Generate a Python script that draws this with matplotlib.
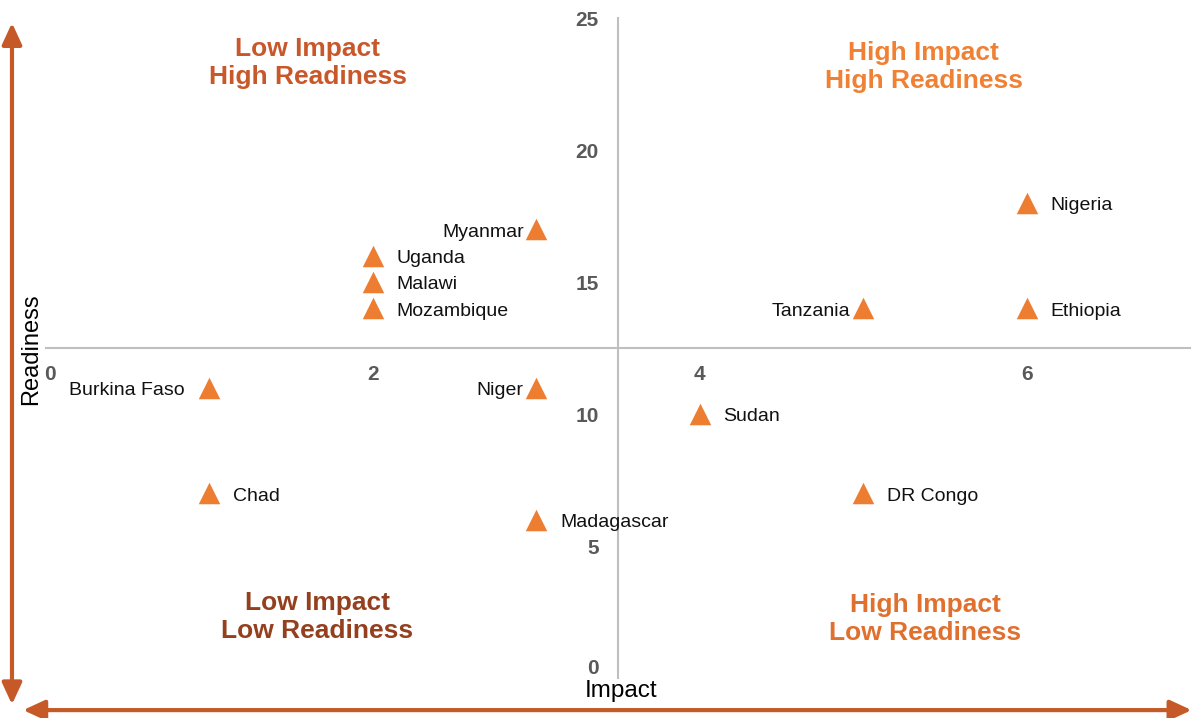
import matplotlib.pyplot as plt
from matplotlib.patches import FancyArrowPatch
from matplotlib.transforms import ScaledTranslation

plt.rcParams['font.family'] = ['Liberation Sans', 'DejaVu Sans']

countries = ["Nigeria", "Ethiopia", "Tanzania", "Myanmar", "Uganda", "Malawi",
             "Mozambique", "Burkina Faso", "Niger", "Sudan", "Chad", "DR Congo",
             "Madagascar"]
impact = [6, 6, 5, 3, 2, 2, 2, 1, 3, 4, 1, 5, 3]
readiness = [18, 14, 14, 17, 16, 15, 14, 11, 11, 10, 7, 7, 6]
label_side = ["r", "r", "l", "l", "r", "r", "r", "l", "l", "r", "r", "r", "r"]

quadrants = ["Low Impact\nHigh Readiness", "High Impact\nHigh Readiness",
             "Low Impact\nLow Readiness", "High Impact\nLow Readiness"]
quad_x = [1.6, 5.37, 1.66, 5.38]
quad_y = [23.3, 23.15, 2.3, 2.25]
quad_colors = ["#C8582A", "#F08033", "#94401F", "#E0702E"]

fig = plt.figure(figsize=(11.98, 7.18), dpi=100)
ax = fig.add_axes([0.0384, 0.0557, 0.955, 0.919])
ax.set_xlim(0, 7)
ax.set_ylim(0, 25)

for s in ["top", "right"]:
    ax.spines[s].set_visible(False)
ax.spines["left"].set_position(("data", 3.5))
ax.spines["bottom"].set_position(("data", 12.5))
for s in ["left", "bottom"]:
    ax.spines[s].set_color("#BFBFBF")
    ax.spines[s].set_linewidth(1.5)

ax.set_xticks([0, 2, 4, 6])
ax.set_yticks([0, 5, 10, 15, 20, 25])
ax.tick_params(length=0, labelsize=15, labelcolor="#595959", pad=12)
ax.tick_params(axis="y", pad=14)
for t in ax.get_xticklabels() + ax.get_yticklabels():
    t.set_fontweight("bold")
# lift the bottom "0" a little so it clears the "Impact" title
ylab0 = ax.get_yticklabels()[0]
ylab0.set_transform(ylab0.get_transform() +
                    ScaledTranslation(0, 8 / 72, fig.dpi_scale_trans))
xlab0 = ax.get_xticklabels()[0]
xlab0.set_transform(xlab0.get_transform() +
                    ScaledTranslation(3 / 72, 0, fig.dpi_scale_trans))

ax.scatter(impact, readiness, marker="^", s=240, color="#ED7D31", zorder=3,
           linewidths=0)

for name, x, y, side in zip(countries, impact, readiness, label_side):
    if side == "r":
        off, ha = 17, "left"
    else:
        off, ha = -9 if name != "Burkina Faso" else -18, "right"
    ax.annotate(name, (x, y), xytext=(off, -2), textcoords="offset points",
                ha=ha, va="center", fontsize=14, color="#111111")

for txt, x, y, c in zip(quadrants, quad_x, quad_y, quad_colors):
    ax.text(x, y, txt, ha="center", va="center", fontsize=19,
            fontweight="bold", color=c, linespacing=1.2)

fig.text(0.026, 0.513, "Readiness", rotation=90, ha="center", va="center",
         fontsize=17, color="black")
fig.text(0.518, 0.037, "Impact", ha="center", va="center", fontsize=17.5,
         color="black")

arrow_color = "#C55A28"
fig.patches.append(FancyArrowPatch((0.010, 0.972), (0.010, 0.015),
                                   transform=fig.transFigure,
                                   arrowstyle="<|-|>,head_length=13,head_width=6",
                                   color=arrow_color, linewidth=3,
                                   mutation_scale=1))
fig.patches.append(FancyArrowPatch((0.017, 0.011), (0.997, 0.011),
                                   transform=fig.transFigure,
                                   arrowstyle="<|-|>,head_length=13,head_width=6",
                                   color=arrow_color, linewidth=3,
                                   mutation_scale=1))

fig.savefig("out.png", dpi=100)
